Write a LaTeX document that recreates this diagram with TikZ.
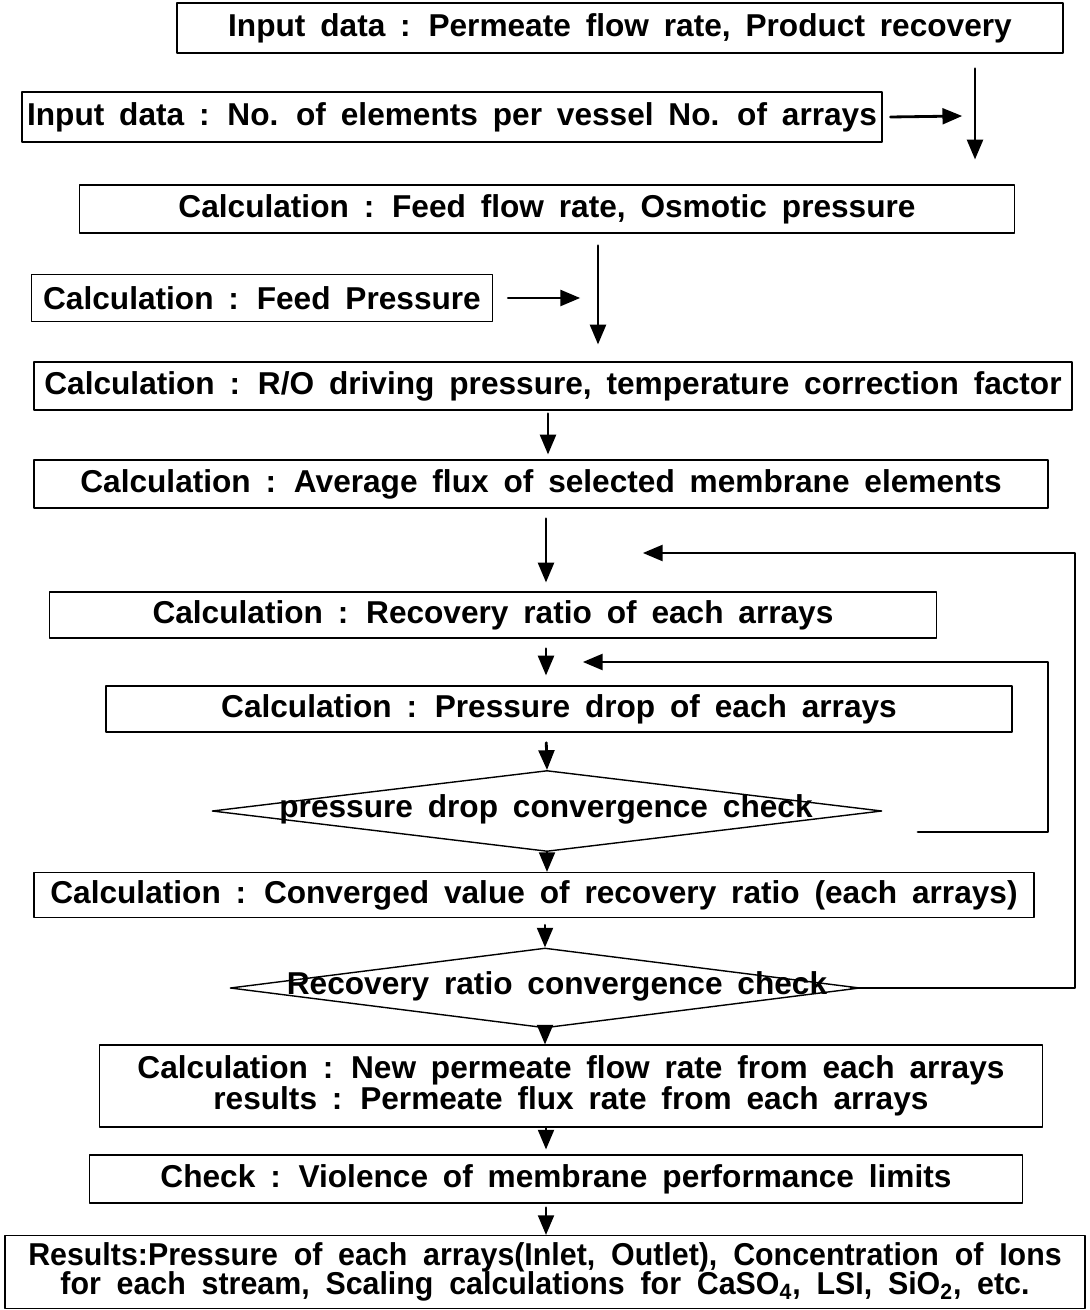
\documentclass[tikz,border=0pt]{standalone}
\usepackage{fontspec}
\setmainfont{Liberation Sans}
\newfontfamily\narrowfont[FakeStretch=0.96]{Liberation Sans}
\usetikzlibrary{arrows}
\usetikzlibrary{shapes.geometric}

\newcommand{\boxfont}{\bfseries\fontsize{18}{17.6}\selectfont\spaceskip=0.47em plus 0.1em\relax}
\newcommand{\resfont}{\narrowfont\bfseries\fontsize{18}{16.8}\selectfont\spaceskip=0.5em plus 0.1em\relax}
\tikzset{
  box/.style={draw,line width=0.8pt,inner sep=0pt,align=center,font=\boxfont},
  dia/.style={draw,diamond,line width=0.8pt,inner sep=0pt},
  diatext/.style={inner sep=0pt,font=\boxfont},
  flow/.style={->,line width=1.6pt},
}

\begin{document}
\begin{tikzpicture}[x=0.02cm,y=-0.02cm,line cap=round,line join=round,>=triangle 45]
\useasboundingbox (0,0) rectangle (1089,1310);
% input boxes
\node[box,minimum width=17.72cm,minimum height=1cm] (b1) at (620,28) {Input data : Permeate flow rate, Product recovery};
\node[box,minimum width=17.2cm,minimum height=1cm] (b2) at (452,117) {Input data : No. of elements per vessel No. of arrays};
\node[box,minimum width=18.7cm,minimum height=0.96cm] (b3) at (547,209) {Calculation : Feed flow rate, Osmotic pressure};
\node[box,minimum width=9.22cm,minimum height=0.94cm] (b4) at (262,298) {Calculation : Feed Pressure};
\node[box,minimum width=20.76cm,minimum height=0.96cm] (b5) at (553,386) {Calculation : R/O driving pressure, temperature correction factor};
\node[box,minimum width=20.28cm,minimum height=0.96cm] (b6) at (541,484) {Calculation : Average flux of selected membrane elements};
% iteration part
\node[box,minimum width=17.74cm,minimum height=0.92cm] (b7) at (493,615) {Calculation : Recovery ratio of each arrays};
\node[box,minimum width=18.12cm,minimum height=0.92cm] (b8) at (559,709) {Calculation : Pressure drop of each arrays};
\node[dia,minimum width=13.4cm,minimum height=1.62cm] (d1) at (547,811) {};
\node[diatext] (d1t) at (546,809) {pressure drop convergence check};
\node[box,minimum width=20cm,minimum height=0.9cm] (b10) at (534,895) {Calculation : Converged value of recovery ratio (each arrays)};
\node[dia,minimum width=12.6cm,minimum height=1.6cm] (d2) at (545,988) {};
\node[diatext] (d2t) at (557,986) {Recovery ratio convergence check};
\node[box,minimum width=18.86cm,minimum height=1.64cm] (b12) at (571,1086) {Calculation : New permeate flow rate from each arrays\\results : Permeate flux rate from each arrays};
\node[box,minimum width=18.66cm,minimum height=0.96cm] (b13) at (556,1179) {Check : Violence of membrane performance limits};
\node[box,minimum width=21.6cm,minimum height=1.46cm,font=\resfont] (b14) at (545,1272) {Results:Pressure of each arrays(Inlet, Outlet), Concentration of Ions\\for each stream, Scaling calculations for CaSO\textsubscript{4}, LSI, SiO\textsubscript{2}, etc.};
% side joins
\coordinate (j1) at (975,116);
\coordinate (j2) at (598,298);
\coordinate (ax) at (546,0);
\draw[flow] ([xshift=0.16cm]b2.east) -- ([xshift=-0.26cm]j1);
\draw[flow,shorten <=0.3cm,shorten >=0.5cm] (b1.south -| j1) -- (b3.north -| j1);
\draw[flow] ([xshift=0.3cm]b4.east) -- ([xshift=-0.36cm]j2);
\draw[flow,shorten <=0.24cm,shorten >=0.34cm] (b3.south -| j2) -- (b5.north -| j2);
% main line
\draw[flow,shorten <=0.06cm,shorten >=0.1cm] (b5.south -| 548,0) -- (b6.north -| 548,0);
\draw[flow,shorten <=0.2cm,shorten >=0.18cm] (b6.south -| ax) -- (b7.north -| ax);
\draw[flow,shorten <=0.2cm,shorten >=0.2cm] (b7.south -| ax) -- (b8.north -| ax);
\draw[flow,shorten <=0.2cm] (b8.south -| ax) -- (d1.north);
\draw[flow] (d1.south) -- (b10.north -| d1.south);
\draw[flow,shorten <=0.14cm] (b10.south -| d2.north) -- (d2.north);
\draw[flow] (d2.south) -- (b12.north -| d2.south);
\draw[flow,shorten >=0.1cm] (b12.south -| ax) -- (b13.north -| ax);
\draw[flow,shorten <=0.08cm] (b13.south -| ax) -- (b14.north -| ax);
% feedback loops
\coordinate (l1) at (918,832);
\coordinate (r1) at (1048,662);
\coordinate (e1) at (583,662);
\draw[flow] (l1) -| (r1) -- (e1);
\coordinate (r2) at (1075,553);
\coordinate (e2) at (643,553);
\draw[flow] ([xshift=-0.2cm]d2.east) -| (r2) -- (e2);
\end{tikzpicture}
\end{document}
